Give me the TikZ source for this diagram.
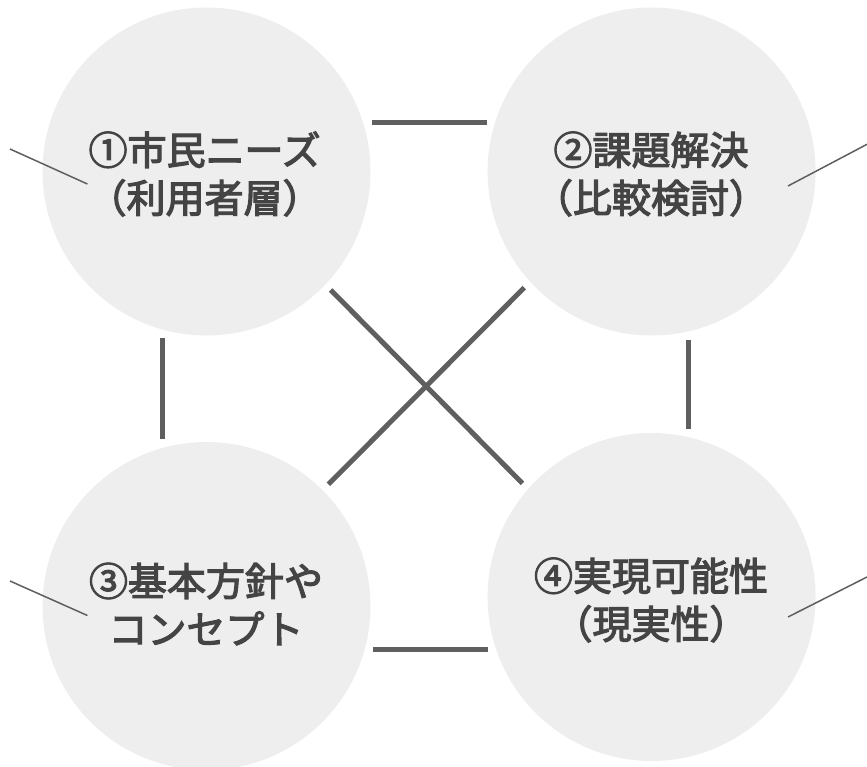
\documentclass[tikz,border=0pt]{standalone}
\usepackage{fontspec}
\setmainfont{Noto Sans CJK JP}[FakeBold=3]
\definecolor{circfill}{HTML}{EEEEEE}
\definecolor{txt}{HTML}{444444}
\definecolor{linec}{HTML}{5F5F5F}
\begin{document}
\begin{tikzpicture}[x=1pt,y=-1pt,
  bubble/.style={circle,fill=circfill,minimum size=328pt,inner sep=0pt},
  lbl/.style={align=center,text=txt,font=\fontsize{39}{48}\selectfont},
  link/.style={draw=linec,line width=5pt},
  leader/.style={draw=linec,line width=1.5pt}]
\useasboundingbox (0,0) rectangle (867,767);
\node[bubble] (c1) at (206.5,171.5) {};
\node[bubble] (c2) at (651.6,171.5) {};
\node[bubble] (c3) at (206.5,606) {};
\node[bubble] (c4) at (651.6,597) {};
\node[lbl] (t1) at (204.6,174) {①市民ニーズ\\（利用者層）};
\node[lbl] (t2) at (651,174) {②課題解決\\（比較検討）};
\node[lbl] (t3) at (206,604) {③基本方針や\\コンセプト};
\node[lbl] (t4) at (651,600) {④実現可能性\\（現実性）};
% thick connectors
\coordinate (a1) at (371.6,122.3); \coordinate (a2) at (486.6,122.3);
\coordinate (b1) at (373,649.7); \coordinate (b2) at (487.7,649.7);
\coordinate (l1) at (162,337.6); \coordinate (l2) at (162,439.3);
\coordinate (r1) at (688.4,340); \coordinate (r2) at (688.4,429);
\coordinate (d1) at (330.7,290); \coordinate (d2) at (522.5,483.4);
\coordinate (e1) at (524.2,287.7); \coordinate (e2) at (328.4,484.3);
\path[link] (a1) -- (a2);
\path[link] (b1) -- (b2);
\path[link] (l1) -- (l2);
\path[link] (r1) -- (r2);
\path[link] (d1) -- (d2);
\path[link] (e1) -- (e2);
% leaders
\coordinate (p1) at (10,149); \coordinate (q1) at (87.4,184);
\coordinate (p2) at (867,144.3); \coordinate (q2) at (788,186);
\coordinate (p3) at (10,581); \coordinate (q3) at (87.4,615.5);
\coordinate (p4) at (867,577); \coordinate (q4) at (788,617);
\path[leader] (p1) -- (q1);
\path[leader] (p2) -- (q2);
\path[leader] (p3) -- (q3);
\path[leader] (p4) -- (q4);
\end{tikzpicture}
\end{document}
